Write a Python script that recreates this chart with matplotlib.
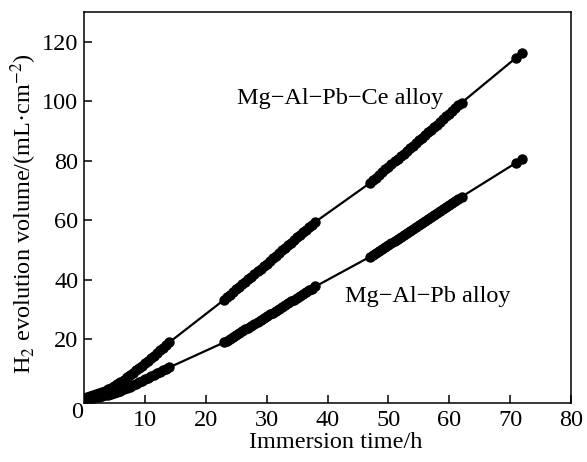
import matplotlib
matplotlib.use('Agg')
from matplotlib import pyplot as plt

plt.rcParams['font.family'] = ['Liberation Serif', 'DejaVu Serif']
plt.rcParams['mathtext.fontset'] = 'stix'

# immersion time (h), same sampling for both alloys
hours = [0, 0.5, 1, 1.5, 2, 2.5, 3, 3.5, 4, 4.5, 5, 5.5, 6, 6.5, 7, 7.5,
         8, 8.5, 9, 9.5, 10, 10.5, 11, 11.5, 12, 12.5, 13, 13.5, 14,
         23, 23.5, 24, 24.5, 25, 25.5, 26, 26.5, 27, 27.5, 28, 28.5, 29, 29.5, 30, 30.5,
         31, 31.5, 32, 32.5, 33, 33.5, 34, 34.5, 35, 35.5, 36, 36.5, 37, 37.5, 38,
         47, 47.5, 48, 48.5, 49, 49.5, 50, 50.5, 51, 51.5, 52, 52.5, 53, 53.5, 54, 54.5,
         55, 55.5, 56, 56.5, 57, 57.5, 58, 58.5, 59, 59.5, 60, 60.5, 61, 61.5, 62,
         71, 72]

# H2 evolution volume (mL/cm2)
ce_alloy = [0.3, 0.6, 0.9, 1.2, 1.6, 2.0, 2.4, 2.8, 3.3, 3.8, 4.4, 5.1, 5.8, 6.5, 7.3, 8.0,
            8.8, 9.6, 10.4, 11.2, 12.0, 12.8, 13.7, 14.5, 15.4, 16.3, 17.2, 18.1, 19.0,
            33.3, 34.1, 35.0, 35.9, 36.8, 37.6, 38.5, 39.4, 40.3, 41.1, 42.0, 42.9, 43.8, 44.6, 45.5, 46.4,
            47.3, 48.1, 49.0, 49.9, 50.8, 51.6, 52.5, 53.4, 54.3, 55.1, 56.0, 56.9, 57.8, 58.6, 59.5,
            72.6, 73.5, 74.4, 75.3, 76.2, 77.1, 78.0, 78.9, 79.8, 80.7, 81.6, 82.4, 83.3, 84.2, 85.1, 86.0,
            86.9, 87.8, 88.7, 89.6, 90.5, 91.3, 92.2, 93.1, 94.0, 94.9, 95.8, 96.7, 97.7, 98.6, 99.5,
            114.7, 116.3]
pb_alloy = [0.1, 0.2, 0.3, 0.4, 0.6, 0.8, 1.0, 1.2, 1.5, 1.8, 2.1, 2.4, 2.8, 3.2, 3.7, 4.1,
            4.6, 5.1, 5.6, 6.1, 6.6, 7.1, 7.6, 8.1, 8.6, 9.1, 9.6, 10.1, 10.6,
            19.0, 19.6, 20.3, 20.9, 21.5, 22.1, 22.8, 23.4, 24.0, 24.6, 25.3, 25.9, 26.5, 27.1, 27.8, 28.4,
            29.0, 29.6, 30.3, 30.9, 31.5, 32.1, 32.8, 33.4, 34.0, 34.6, 35.3, 35.9, 36.5, 37.1, 37.8,
            47.8, 48.4, 49.1, 49.8, 50.5, 51.1, 51.8, 52.5, 53.2, 53.8, 54.5, 55.1, 55.8, 56.5, 57.2, 57.8,
            58.5, 59.2, 59.9, 60.5, 61.2, 61.8, 62.5, 63.2, 63.9, 64.5, 65.2, 65.9, 66.6, 67.2, 67.9,
            79.4, 80.7]

fig = plt.figure(figsize=(5.87, 4.62), dpi=100)
ax = fig.add_axes([0.143, 0.128, 0.830, 0.846])

ax.plot(hours, ce_alloy, color='black', lw=1.6, marker='o', ms=6.5, mec='black', mfc='black')
ax.plot(hours, pb_alloy, color='black', lw=1.6, marker='o', ms=6.5, mec='black', mfc='black')

ax.text(25.1, 101, 'Mg\u2212Al\u2212Pb\u2212Ce alloy', fontsize=17.5, va='center', ha='left')
ax.text(42.9, 34.3, 'Mg\u2212Al\u2212Pb alloy', fontsize=17.5, va='center', ha='left')

ax.set_xlim(0, 80)
ax.set_ylim(-1.3, 130)
ax.set_xticks([10, 20, 30, 40, 50, 60, 70, 80])
ax.set_yticks([20, 40, 60, 80, 100, 120])
ax.tick_params(direction='in', length=6, width=1.1, labelsize=17.5)
ax.tick_params(axis='x', pad=5)
ax.tick_params(axis='y', pad=4)
for s in ax.spines.values():
    s.set_linewidth(1.1)

# the shared origin label sits in the corner
fig.text(77/587, 1-413/462, '0', fontsize=17.5, ha='center', va='center')

ax.set_xlabel('Immersion time/h', fontsize=17.5, labelpad=1)
ax.set_ylabel('H$_2$ evolution volume/(mL\u00b7cm$^{\u22122}$)', fontsize=17.5, labelpad=2)
ax.xaxis.label.set_x(0.517)
ax.yaxis.label.set_y(0.483)

plt.savefig('out.png', dpi=100)
